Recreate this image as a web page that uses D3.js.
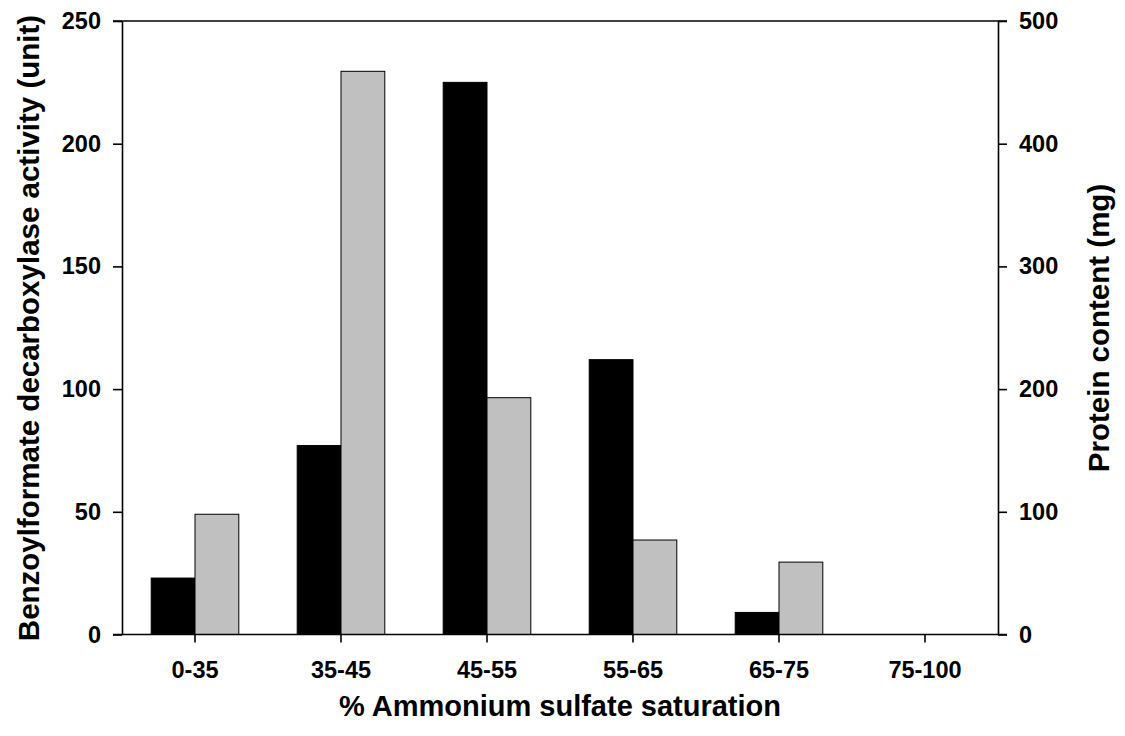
<!DOCTYPE html>
<html><head><meta charset="utf-8">
<script src="https://cdn.jsdelivr.net/npm/d3@7"></script>
<style>
html,body{margin:0;padding:0;background:#fff;}
svg text{font-family:"Liberation Sans",Arial,sans-serif;font-weight:bold;fill:#000;}
</style></head>
<body>
<svg id="c" width="1125" height="736"></svg>
<script>
const categories = ["0-35","35-45","45-55","55-65","65-75","75-100"];
const activity = [23, 77, 225, 112, 9, 0];      // left axis (unit)
const protein = [98, 459, 193, 77, 59, 0];      // right axis (mg)
const leftTicks = [0, 50, 100, 150, 200, 250];
const rightTicks = [0, 100, 200, 300, 400, 500];

const svg = d3.select("#c");
const L = 122, R = 998, T = 21, B = 634.5;

const x = d3.scaleBand().domain(categories).range([L, R]).padding(0);
const yL = d3.scaleLinear().domain([0, 250]).range([B, T]);
const yR = d3.scaleLinear().domain([0, 500]).range([B, T]);
const bw = x.bandwidth() * 0.3;

// bars
const g = svg.append("g");
g.selectAll(".blk").data(categories).join("rect")
  .attr("x", (d) => x(d) + x.bandwidth()/2 - bw)
  .attr("y", (d,i) => yL(activity[i]))
  .attr("width", bw)
  .attr("height", (d,i) => B - yL(activity[i]))
  .attr("fill", "#000").attr("stroke", "#000").attr("stroke-width", 1);
g.selectAll(".gry").data(categories).join("rect")
  .attr("x", (d) => x(d) + x.bandwidth()/2)
  .attr("y", (d,i) => yR(protein[i]))
  .attr("width", bw)
  .attr("height", (d,i) => B - yR(protein[i]))
  .attr("fill", "#c0c0c0").attr("stroke", "#000").attr("stroke-width", 1);

// axes
const fs = 23.5;
const ax1 = svg.append("g").attr("transform", `translate(${L},0)`)
  .call(d3.axisLeft(yL).tickValues(leftTicks).tickSize(9).tickSizeOuter(0).tickPadding(12));
const ax2 = svg.append("g").attr("transform", `translate(${R},0)`)
  .call(d3.axisRight(yR).tickValues(rightTicks).tickSize(9).tickSizeOuter(0).tickPadding(12));
const ax3 = svg.append("g").attr("transform", `translate(0,${B})`)
  .call(d3.axisBottom(x).tickSize(8).tickSizeOuter(0).tickPadding(19));
[ax1, ax2, ax3].forEach(a => {
  a.select(".domain").attr("stroke", "#000").attr("stroke-width", 1.6);
  a.selectAll(".tick line").attr("stroke", "#000").attr("stroke-width", 1.6);
  a.selectAll("text").attr("font-size", fs).attr("font-family", null);
});
ax3.select(".domain").remove();
// frame top and bottom lines
svg.append("line").attr("x1", L - 9).attr("x2", R + 9).attr("y1", T).attr("y2", T)
  .attr("stroke", "#000").attr("stroke-width", 1.6);
svg.append("line").attr("x1", L - 9).attr("x2", R + 9).attr("y1", B).attr("y2", B)
  .attr("stroke", "#000").attr("stroke-width", 1.6);

// titles
svg.append("text").attr("x", 560).attr("y", 716).attr("text-anchor", "middle")
  .attr("font-size", 29).text("% Ammonium sulfate saturation");
svg.append("text").attr("transform", `translate(39,328) rotate(-90)`)
  .attr("text-anchor", "middle").attr("font-size", 29.5)
  .text("Benzoylformate decarboxylase activity (unit)");
svg.append("text").attr("transform", `translate(1109,328) rotate(-90)`)
  .attr("text-anchor", "middle").attr("font-size", 29.5)
  .text("Protein content (mg)");
</script>
</body></html>
